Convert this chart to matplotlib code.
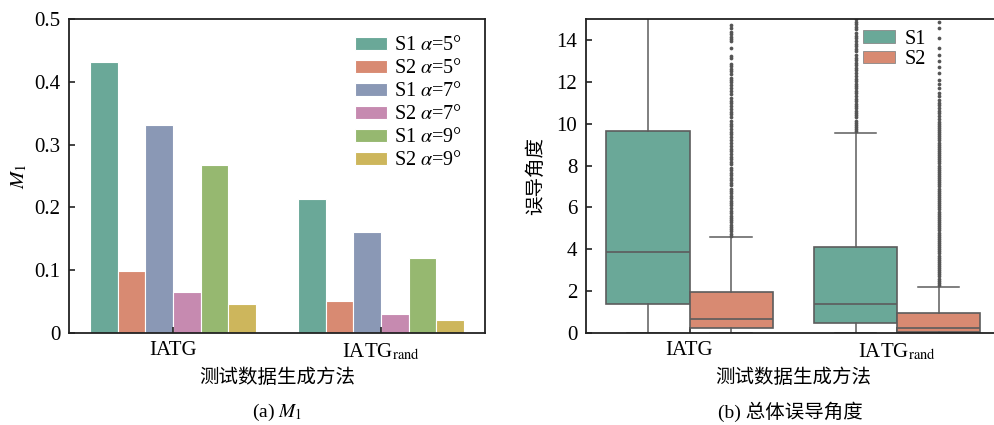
import matplotlib
matplotlib.use("Agg")
import matplotlib.pyplot as plt
from matplotlib.patches import Patch

plt.rcParams['font.family'] = ['Liberation Serif', 'Noto Sans CJK SC', 'DejaVu Sans']
plt.rcParams['mathtext.fontset'] = 'stix'

# ---------------- data ----------------
methods = ['IATG', 'IATG$_{\\mathrm{rand}}$']
bar_labels = ['S1 $\\alpha$=5°', 'S2 $\\alpha$=5°', 'S1 $\\alpha$=7°',
              'S2 $\\alpha$=7°', 'S1 $\\alpha$=9°', 'S2 $\\alpha$=9°']
m1_iatg = [0.431, 0.099, 0.331, 0.065, 0.267, 0.046]
m1_rand = [0.213, 0.051, 0.161, 0.031, 0.120, 0.020]
bar_colors = ['#6aa898', '#d88a72', '#8a98b5', '#c68ab0', '#96b870', '#cdb65c']

strategies = ['S1', 'S2']
box_colors = ['#6aa898', '#d88a72']
# box statistics: (whislo, q1, median, q3, whishi)
box_iatg_s1 = (0.0, 1.40, 3.85, 9.65, 23.0)
box_iatg_s2 = (0.0, 0.22, 0.65, 1.96, 4.60)
box_rand_s1 = (0.0, 0.46, 1.40, 4.12, 9.55)
box_rand_s2 = (0.0, 0.06, 0.25, 0.94, 2.22)
fliers_iatg_s1 = []
fliers_iatg_s2 = [4.65, 4.75, 4.85, 4.95, 5.05, 5.15, 5.3, 5.4, 5.5, 5.6, 5.75, 5.85,
                  5.95, 6.1, 6.2, 6.3, 6.45, 6.55, 6.7, 6.8, 6.9, 7.05, 7.15, 7.3, 7.4,
                  7.55, 7.65, 7.8, 7.9, 8.05, 8.15, 8.3, 8.4, 8.55, 8.7, 8.8, 8.95, 9.1,
                  9.2, 9.35, 9.5, 9.6, 9.75, 9.9, 10.0, 10.15, 10.3, 10.45, 10.55, 10.7,
                  10.85, 11.0, 11.1, 11.25, 11.4, 11.55, 11.7, 11.85, 12.0, 12.1, 12.2,
                  12.35, 12.5, 12.6, 12.75, 12.85, 13.15, 13.25, 13.6, 13.95, 14.05,
                  14.15, 14.3, 14.4, 14.55, 14.7]
fliers_rand_s1 = [9.65, 9.75, 9.85, 9.95, 10.05, 10.15, 10.3, 10.4, 10.5, 10.6, 10.75,
                  10.85, 10.95, 11.1, 11.2, 11.3, 11.45, 11.55, 11.7, 11.8, 11.9, 12.05,
                  12.15, 12.3, 12.4, 12.55, 12.65, 12.8, 12.9, 13.05, 13.15, 13.3, 13.45,
                  13.55, 13.7, 13.8, 13.95, 14.1, 14.2, 14.35, 14.5, 14.6, 14.75, 14.85,
                  15.0, 15.1]
fliers_rand_s2 = [2.3, 2.4, 2.5, 2.6, 2.7, 2.8, 2.9, 3.0, 3.1, 3.2, 3.3, 3.4, 3.5, 3.6,
                  3.7, 3.8, 3.9, 4.0, 4.1, 4.2, 4.3, 4.4, 4.5, 4.6, 4.7, 4.8, 4.9, 5.0,
                  5.1, 5.2, 5.3, 5.4, 5.5, 5.6, 5.7, 5.8, 5.9, 6.0, 6.1, 6.2, 6.3, 6.4,
                  6.5, 6.6, 6.7, 6.8, 6.9, 7.0, 7.1, 7.2, 7.3, 7.4, 7.5, 7.6, 7.7, 7.8,
                  7.9, 8.0, 8.1, 8.2, 8.3, 8.4, 8.5, 8.6, 8.7, 8.8, 8.9, 9.0, 9.1, 9.2,
                  9.3, 9.4, 9.5, 9.6, 9.7, 9.8, 9.9, 10.0, 10.1, 10.2, 10.35, 10.5,
                  10.6, 10.75, 10.9, 11.0, 11.15, 11.3, 11.45, 11.7, 11.9, 12.1, 12.4,
                  12.7, 13.0, 13.3, 13.6, 14.1, 14.55, 14.85, 15.2]

left_ticks = [0, 0.1, 0.2, 0.3, 0.4, 0.5]
left_ticklabels = ['0', '0.1', '0.2', '0.3', '0.4', '0.5']
right_ticks = [0, 2, 4, 6, 8, 10, 12, 14]

xlabel = '测试数据生成方法'
ylabel_right = '误导角度'
caption_a = '(a) $M_1$'
caption_b = '(b) 总体误导角度'

# ---------------- figure ----------------
W, H = 995, 425
fig = plt.figure(figsize=(W / 100, H / 100), dpi=100)
spine_c = '#222222'
fs = 15

def setup(ax):
    for s in ax.spines.values():
        s.set_color(spine_c)
        s.set_linewidth(1.3)
    ax.tick_params(direction='in', length=4, width=1.2, color=spine_c,
                   labelsize=fs, pad=6)

# ---- left: bar chart ----
ax1 = fig.add_axes([69 / W, (H - 333) / H, (485 - 69) / W, (333 - 19) / H])
setup(ax1)
n = len(bar_labels)
bw = 0.8 / n
for i in range(n):
    vals = [m1_iatg[i], m1_rand[i]]
    xs = [g + (i - (n - 1) / 2) * bw for g in range(len(methods))]
    ax1.bar(xs, vals, width=bw, color=bar_colors[i], edgecolor='white',
            linewidth=0.8, label=bar_labels[i])
ax1.set_xlim(-0.5, 1.5)
ax1.set_ylim(0, 0.5)
ax1.set_yticks(left_ticks)
ax1.set_yticklabels(left_ticklabels)
ax1.set_xticks(range(len(methods)))
ax1.set_xticklabels(methods)
ax1.set_xlabel(xlabel, fontsize=14, labelpad=5)
ax1.set_ylabel('$M_1$', fontsize=fs, labelpad=4)
ax1.legend(loc='upper left', frameon=False, fontsize=14.5, handlelength=1.6,
           handleheight=0.6, labelspacing=0.2, handletextpad=0.35,
           borderpad=0, borderaxespad=0, bbox_to_anchor=(0.6875, 0.945))

# ---- right: box plot ----
ax2 = fig.add_axes([585.7 / W, (H - 333) / H, (1001 - 585.7) / W, (333 - 19) / H])
setup(ax2)
ax2.spines['right'].set_visible(False)
boxes = [(box_iatg_s1, fliers_iatg_s1, 0, 0), (box_iatg_s2, fliers_iatg_s2, 0, 1),
         (box_rand_s1, fliers_rand_s1, 1, 0), (box_rand_s2, fliers_rand_s2, 1, 1)]
line_c = '#5c5c5c'
for (st, fl, g, h) in boxes:
    stats = [dict(whislo=st[0], q1=st[1], med=st[2], q3=st[3], whishi=st[4], fliers=fl)]
    pos = g + (h - 0.5) * 0.4
    ax2.bxp(stats, positions=[pos], widths=0.4, capwidths=0.2, patch_artist=True,
            boxprops=dict(facecolor=box_colors[h], edgecolor=line_c, linewidth=1.2),
            medianprops=dict(color=line_c, linewidth=1.2),
            whiskerprops=dict(color=line_c, linewidth=1.1),
            capprops=dict(color=line_c, linewidth=1.1),
            flierprops=dict(marker='o', markersize=2.7, markerfacecolor='#555555',
                            markeredgecolor='none', linestyle='none'),
            manage_ticks=False)
ax2.set_xlim(-0.5, 1.5)
ax2.set_ylim(0, 15)
ax2.set_yticks(right_ticks)
ax2.set_xticks(range(len(methods)))
ax2.set_xticklabels(methods)
ax2.set_xlabel(xlabel, fontsize=14, labelpad=5)
ax2.set_ylabel(ylabel_right, fontsize=14, labelpad=8)
handles = [Patch(facecolor=box_colors[k], edgecolor='#888888', linewidth=0.6,
                 label=strategies[k]) for k in range(2)]
ax2.legend(handles=handles, loc='upper left', frameon=False, fontsize=14.5,
           handlelength=1.6, handleheight=0.6, labelspacing=0.05, handletextpad=0.45,
           borderpad=0, borderaxespad=0, bbox_to_anchor=(0.668, 0.965))

fig.text(277 / W, 1 - 412 / H, caption_a, ha='center', va='center', fontsize=14)
fig.text(790 / W, 1 - 412 / H, caption_b, ha='center', va='center', fontsize=14)

fig.savefig('out.png', dpi=100)
